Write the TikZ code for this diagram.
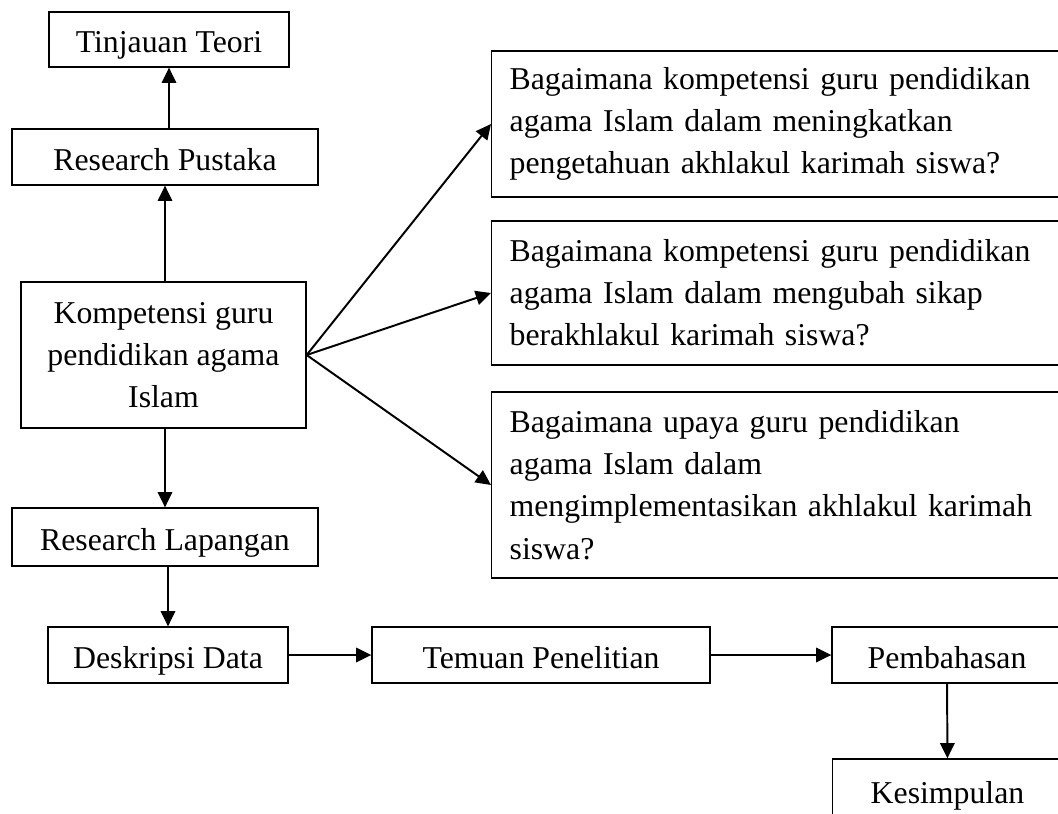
\documentclass[tikz,border=0pt]{standalone}
\usepackage{fontspec}
\setmainfont{Liberation Serif}
\usetikzlibrary{positioning,arrows.meta}

\begin{document}
\begin{tikzpicture}[x=0.025cm, y=-0.025cm,
  box/.style={draw=black, line width=0.9pt, fill=white, inner sep=0pt, font=\fontsize{22.6}{30}\selectfont},
  single/.style={box, text height=22pt, text depth=3.5pt},
  qbox/.style={box, anchor=west, align=left, text width=13.8cm, inner xsep=0.45cm},
  arr/.style={-{Triangle[length=0.38cm, width=0.36cm]}, line width=1.4pt}]

  \useasboundingbox (0,0) rectangle (1058,814);
  \clip (0,0) rectangle (1058,814);

  % Left column
  \node[single, minimum width=6cm, minimum height=1.375cm] (tinjauan) at (169,39.5) {Tinjauan Teori};
  \node[single, minimum width=7.65cm, minimum height=1.4cm] (pustaka) at (165,157) {Research Pustaka};
  \node[box, minimum width=7.125cm, minimum height=3.65cm, align=center] (kompetensi) at (163.5,355)
    {Kompetensi guru\\pendidikan agama\\Islam};
  \node[single, minimum width=7.65cm, minimum height=1.45cm] (lapangan) at (165,537) {Research Lapangan};

  % Bottom row
  \node[single, minimum width=6cm, minimum height=1.4cm] (deskripsi) at (168,655) {Deskripsi Data};
  \node[single, minimum width=8.45cm, minimum height=1.4cm] (temuan) at (541,655) {Temuan Penelitian};
  \node[single, minimum width=5.75cm, minimum height=1.4cm] (pembahasan) at (947,655) {Pembahasan};
  \node[single, minimum width=5.75cm, minimum height=1.55cm] (kesimpulan) at (947.5,790) {Kesimpulan};

  % Question boxes
  \foreach \i/\yc/\h/\txt in {
      1/124/3.65cm/{Bagaimana kompetensi guru pendidikan\\agama Islam dalam meningkatkan\\pengetahuan akhlakul karimah siswa?},
      2/293/3.6cm/{Bagaimana kompetensi guru pendidikan\\agama Islam dalam mengubah sikap\\berakhlakul karimah siswa?},
      3/485/4.65cm/{Bagaimana upaya guru pendidikan\\agama Islam dalam\\mengimplementasikan akhlakul karimah\\siswa?}}
    \node[qbox, minimum height=\h] (question-\i) at (491,\yc) {\txt};

  % Arrows
  \draw[arr] (tinjauan.south |- pustaka.north) -- (tinjauan.south);
  \draw[arr] (pustaka.south |- kompetensi.north) -- (pustaka.south);
  \draw[arr] (lapangan.north |- kompetensi.south) -- (lapangan.north);
  \draw[arr] (deskripsi.north |- lapangan.south) -- (deskripsi.north);

  \foreach \i in {1,...,3}
    \draw[arr] (kompetensi.east) -- (question-\i.west);

  \draw[arr] (deskripsi) -- (temuan);
  \draw[arr] (temuan) -- (pembahasan);
  \draw[arr] (pembahasan) -- (kesimpulan);

\end{tikzpicture}
\end{document}
